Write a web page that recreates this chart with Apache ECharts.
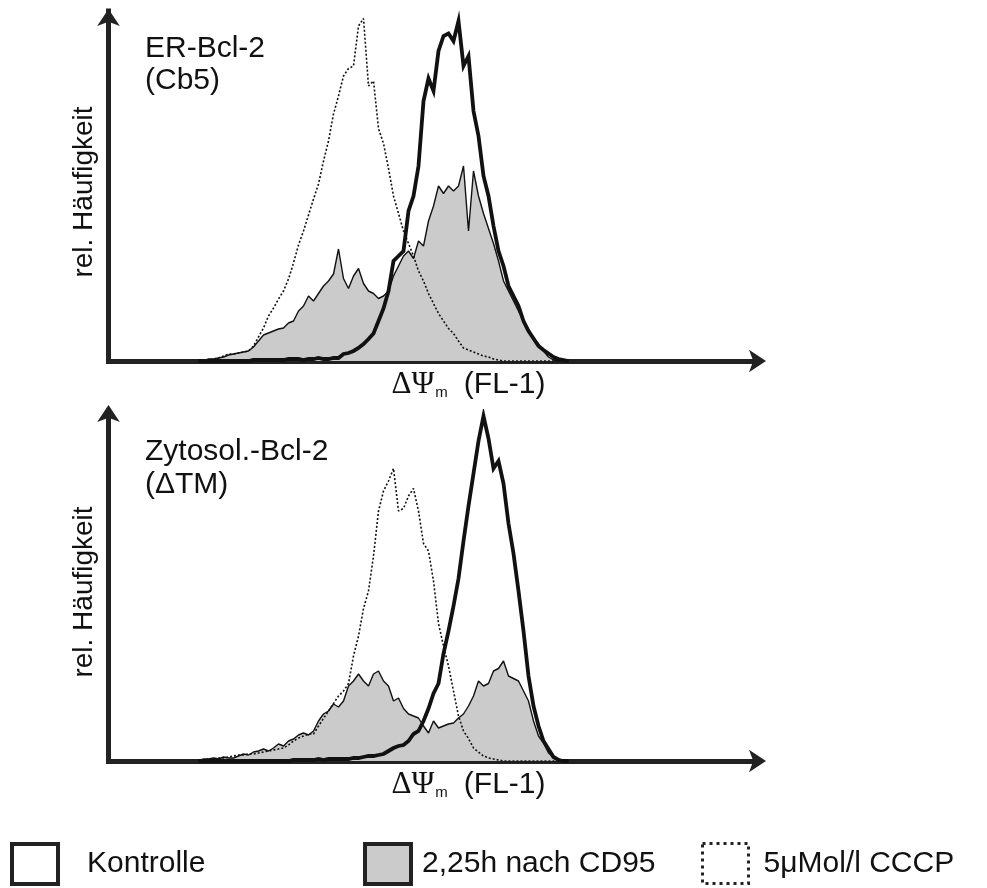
<!DOCTYPE html>
<html>
<head>
<meta charset="utf-8">
<script src="https://cdn.jsdelivr.net/npm/echarts@6/dist/echarts.min.js"></script>
<style>
html,body{margin:0;padding:0;background:#fff;}
#chart{width:987px;height:888px;}
</style>
</head>
<body>
<div id="chart"></div>
<script>
// FL-1 channel (bin centres)
const channels = [36,38,40,42,44,46,48,50,52,54,56,58,60,62,64,66,68,70,72,74,76,78,80,82,84,86,88,90,92,94,96,98,100,102,104,106,108,110,112,114,116,118,120,122,124,126,128,130,132,134,136,138,140,142,144,146,148,150,152,154,156,158,160,162,164,166,168,170,172,174,176,178,180,182,184];

const seriesNames = ['Kontrolle', '2,25h nach CD95', '5μMol/l CCCP'];
const panelLabels = ['ER-Bcl-2\n(Cb5)', 'Zytosol.-Bcl-2\n(ΔTM)'];
const yAxisName = 'rel. Häufigkeit';

// Top panel: ER-Bcl-2 (Cb5)
const topKontrolle = [0,0,0,0,0,0,0,0,0,0, 0,0.4,0.4,0.4,0.4,0.4,0.4,0.4,0.8,0.8, 0.8,0.4,0.8,0.8,1.2,0.8,0.8,1.2,1.2,2.8, 3.2,4,5.2,6.8,8.8,11,16,21,28,40, 42,44,60,66,78,104,113,108,124,130, 131,128,136,118,122,100,90,74,66,54, 44,38,30,26,22,16,12,9,6,4.4, 3,1.6,0.8,0.4,0];
const topCD95 = [0,0,0.8,0.8,1.2,1.6,2.4,2.8,3.2,3.6, 4,5.6,8,10.4,11.2,12,12.8,13.2,15.2,16, 20,22,26,24,27,30,32,34.8,44.8,33, 29,34,37,31,28,27,25,26,28,34, 38,42,44,41,48,46,56,62,70,67, 70,68,70,78,52,76,66,59,53,47, 40,32,28,24,20,16,12.8,9.2,6.8,4, 1.6,0.4,0,0,0];
const topCCCP = [0,0,0.4,0.8,1.2,2,2.8,2.8,3.2,3.6, 4,6,9.6,13.2,18,21.2,24.8,28,32.8,39.2, 46.4,52,58.4,64.8,70.8,80,88,98.8,106,114, 117,118,134,137,110,112,93,87,77,66, 59,52,47,42,36,32,27,23,19,16, 13,11,8,5.2,4.4,3.6,2.8,2,1.6,0.8, 0.4,0,0,0,0,0,0,0,0,0, 0,0,0,0,0];

// Bottom panel: Zytosol.-Bcl-2 (ΔTM)
const botKontrolle = [0,0,0,0,0,0,0,0,0,0, 0,0,0,0,0,0,0,0,0,0.4, 0.4,0.4,0.4,0.4,0.8,0.4,0.8,0.8,0.8,0.8, 0.8,1.2,1.2,1.6,2,2,2.4,2.8,4,5.2, 6,6.4,8,10.8,12,16,21,27,31,43, 52,62,73,88,102,115,128,138,129,117, 120,111,95,83,68,52,34,22,14,8, 4.8,1.6,0.4,0,0];
const botCD95 = [0,0.8,0.8,1.2,0.8,1.6,1.2,1.2,2,2.8, 2.4,3.6,4,4.8,4,5.2,6.8,6,8,8.8, 10.4,11.2,10.4,12,16,18.8,20,22.8,21.6,24, 30,32,34.8,32,30,34.8,36,32,30,24, 25.2,21,18.8,18,17.2,14,11.2,16,13.2,14, 14.8,15.2,17.2,18.8,22,26,32,30,31,36, 37,40,34,33,32,28,24,16,10,7.2, 3.2,1.6,0.8,0,0];
const botCCCP = [0,0.4,0.8,0.8,1.2,1.2,1.6,2,2.4,2.4, 2.8,2.8,3.2,3.6,4,4.4,4.8,5.2,6.4,8, 9.2,10,10.8,10.8,14,17,20,23,26,28, 31,42,50,61,68,82,100,108,112,117, 100,101,106,109,100,87,84,72,55,46, 38,28,18,12,9,5.2,3.6,2,1.2,0.8, 0.4,0,0,0,0,0,0,0,0,0, 0,0,0,0,0];

const pairs = arr => channels.map((c, i) => [c, arr[i]]);
const FONT = 'Liberation Sans, Arial, sans-serif';
const AXIS_COLOR = '#222';
const INK = '#111';

function makeX(gi) {
  return {
    gridIndex: gi, type: 'value', min: 0, max: 260,
    offset: 1.5,
    axisLine: { show: true, symbol: ['none', 'arrow'], symbolSize: [17, 17], symbolOffset: [0, 7.5],
      lineStyle: { color: AXIS_COLOR, width: 5, cap: 'square' } },
    axisTick: { show: false }, axisLabel: { show: false }, splitLine: { show: false },
    name: '{g|ΔΨ}{s|m}{t|(FL-1)}',
    nameLocation: 'middle', nameGap: 6,
    nameTextStyle: {
      padding: [0, 0, 0, 70],
      rich: {
        g: { fontFamily: 'Liberation Serif, serif', fontSize: 31, color: INK, lineHeight: 32 },
        s: { fontFamily: FONT, fontSize: 15, color: INK, verticalAlign: 'bottom', lineHeight: 32, padding: [12, 16, 0, 1] },
        t: { fontFamily: FONT, fontSize: 30, color: INK, lineHeight: 32 }
      }
    }
  };
}
function makeY(gi, endOffset) {
  return {
    gridIndex: gi, type: 'value', min: 0, max: 140,
    axisLine: { show: true, symbol: ['none', 'arrow'], symbolSize: [17, 17], symbolOffset: [0, endOffset],
      lineStyle: { color: AXIS_COLOR, width: 5, cap: 'square' } },
    axisTick: { show: false }, axisLabel: { show: false }, splitLine: { show: false },
    name: yAxisName, nameLocation: 'middle', nameRotate: 90, nameGap: 10,
    nameTextStyle: { fontFamily: FONT, fontSize: 28, color: INK, padding: [0, 12, 0, 0] }
  };
}
function panelSeries(gi, kon, cd95, cccp) {
  return [
    { name: seriesNames[1], type: 'line', xAxisIndex: gi, yAxisIndex: gi, data: pairs(cd95),
      showSymbol: false, silent: true,
      lineStyle: { color: INK, width: 1.4 }, itemStyle: { color: '#cbcbcb' },
      areaStyle: { color: '#cbcbcb', opacity: 1 } },
    { name: seriesNames[2], type: 'line', xAxisIndex: gi, yAxisIndex: gi, data: pairs(cccp),
      showSymbol: false, silent: true,
      lineStyle: { color: INK, width: 1.6, type: [2, 2] }, itemStyle: { color: '#fff' } },
    { name: seriesNames[0], type: 'line', xAxisIndex: gi, yAxisIndex: gi, data: pairs(kon),
      showSymbol: false, silent: true,
      lineStyle: { color: INK, width: 3.8, join: 'miter' }, itemStyle: { color: '#fff' } }
  ];
}
const legendText = { fontFamily: FONT, fontSize: 30, color: INK };
const chart = echarts.init(document.getElementById('chart'), null, { renderer: 'canvas' });
chart.setOption({
  animation: false,
  backgroundColor: '#fff',
  title: [
    { text: panelLabels[0], left: 140, top: 28, textStyle: { fontFamily: FONT, fontSize: 30, fontWeight: 'normal', color: INK, lineHeight: 32 } },
    { text: panelLabels[1], left: 140, top: 430, textStyle: { fontFamily: FONT, fontSize: 30, fontWeight: 'normal', color: INK, lineHeight: 33 } }
  ],
  grid: [
    { left: 108.5, top: 11, width: 650, height: 350, containLabel: false, outerBoundsMode: 'none' },
    { left: 108.5, top: 411, width: 650, height: 350, containLabel: false, outerBoundsMode: 'none' }
  ],
  xAxis: [makeX(0), makeX(1)],
  yAxis: [makeY(0, 2), makeY(1, 6)],
  legend: [
    { left: 5, top: 837, itemWidth: 46, itemHeight: 40, selectedMode: false,
      textStyle: Object.assign({ padding: [0, 0, 0, 24] }, legendText),
      data: [{ name: seriesNames[0], icon: 'rect', itemStyle: { color: '#fff', borderColor: AXIS_COLOR, borderWidth: 4 } }] },
    { left: 358, top: 837, itemWidth: 46, itemHeight: 40, selectedMode: false,
      textStyle: Object.assign({ padding: [0, 0, 0, 6] }, legendText),
      data: [{ name: seriesNames[1], icon: 'rect', itemStyle: { color: '#cbcbcb', borderColor: AXIS_COLOR, borderWidth: 4 } }] },
    { left: 696, top: 837, itemWidth: 46, itemHeight: 40, selectedMode: false,
      textStyle: Object.assign({ padding: [0, 0, 0, 10] }, legendText),
      data: [{ name: seriesNames[2], icon: 'rect', itemStyle: { color: '#fff', borderColor: AXIS_COLOR, borderWidth: 3, borderType: [3, 4] } }] }
  ],
  series: [].concat(
    panelSeries(0, topKontrolle, topCD95, topCCCP),
    panelSeries(1, botKontrolle, botCD95, botCCCP)
  )
});
</script>
</body>
</html>
